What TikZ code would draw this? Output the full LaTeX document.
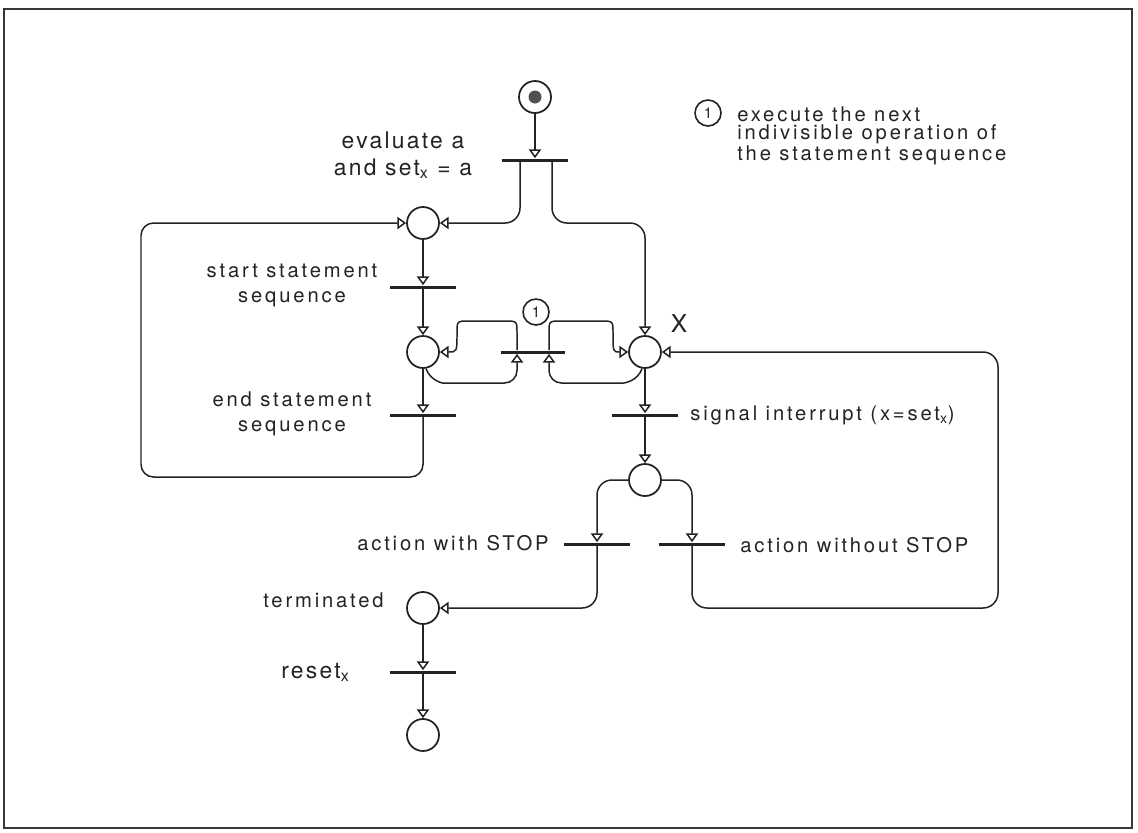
\documentclass[tikz,border=0pt]{standalone}
\usepackage{fontspec}
\setmainfont{TeX Gyre Heros}
\newfontfamily\netfont{TeX Gyre Heros}[LetterSpace=14]
\newfontfamily\netbigfont{TeX Gyre Heros}[LetterSpace=10]
\usetikzlibrary{arrows.meta}
\definecolor{inkdark}{RGB}{35,35,35}
\definecolor{tokengray}{RGB}{80,80,80}
\definecolor{framegray}{RGB}{55,55,55}

\begin{document}
\begin{tikzpicture}[x=0.02cm,y=-0.02cm,
  place/.style={circle,draw=inkdark,line width=1pt,fill=white,minimum size=0.64cm,inner sep=0pt},
  trans/.style={rectangle,fill=inkdark,minimum width=1.32cm,minimum height=0.06cm,inner sep=0pt},
  halftrans/.style={trans,minimum width=0.64cm},
  arc/.style={draw=inkdark,line width=0.85pt,-{Triangle[open,fill=white,length=5pt,width=7pt]}},
  note/.style={font=\netfont\fontsize{11.5}{14.2}\selectfont,text=inkdark,align=center,inner sep=0pt},
  bignote/.style={font=\netbigfont\fontsize{13}{15.3}\selectfont,text=inkdark,align=center,inner sep=0pt},
  numcircle/.style={circle,draw=inkdark,line width=0.9pt,minimum size=0.52cm,inner sep=0pt,
    text=inkdark,font=\netfont\fontsize{8.5}{9}\selectfont}]

  % ── CANVAS AND FRAME ───────────────────────────────────────────────────────
  \useasboundingbox (0,0) rectangle (1138,832);
  \fill[white] (0,0) rectangle (1138,832);
  \draw[framegray,line width=1.2pt] (4,9) rectangle (1132,828);

  % ── PLACES AND TRANSITIONS ─────────────────────────────────────────────────
  \node[place] (pstart) at (535,97) {};
  \fill[tokengray] (pstart) circle[radius=0.13cm];
  \node[trans] (t0) at (535,160) {};

  \node[place] (pready) at (423,223) {};
  \node[trans] (tstart) at (423,287) {};
  \node[place] (pbody) at (423,352) {};
  \node[trans] (tend) at (423,415) {};

  % two halves of the step bar
  \node[halftrans] (tstepl) at (517,352) {};
  \node[halftrans] (tstepr) at (549,352) {};

  \node[place] (px) at (645,352) {};
  \node[trans] (tsig) at (645,415) {};
  \node[place] (pint) at (645,480) {};
  \node[trans] (tstop) at (597,544) {};
  \node[trans] (tnostop) at (692,544) {};

  \node[place] (pterm) at (423,608) {};
  \node[trans] (treset) at (423,672) {};
  \node[place] (pfinal) at (423,735) {};

  % ── ARCS ───────────────────────────────────────────────────────────────────
  \foreach \from/\to in {pstart/t0,pready/tstart,tstart/pbody,pbody/tend,
                         px/tsig,tsig/pint,pterm/treset,treset/pfinal}
    \draw[arc] (\from.south) -- (\to.north);

  % fork below the first transition
  \draw[arc,rounded corners=0.3cm] ([xshift=-0.3cm]t0.south) |- (pready.east);
  \draw[arc,rounded corners=0.3cm] ([xshift=0.34cm]t0.south) |- (645,223) -- (px.north);

  % loop back from end of sequence
  \draw[arc,rounded corners=0.25cm] (tend.south) |- (141,477) |- (pready.west);

  % step loops
  \draw[arc,rounded corners=0.25cm] (pbody.-80) to[out=-70,in=180] (455,383) -| (tstepl.south);
  \draw[arc] (tstepl.north) -- (517,333) .. controls (517,321) .. (505,321) -- (469,321)
    .. controls (457,321) .. (457,333) .. controls (457,352) .. (pbody.east);
  \draw[arc,rounded corners=0.25cm] (px.-100) to[out=-110,in=0] (611,383) -| (tstepr.south);
  \draw[arc] (tstepr.north) -- (549,333) .. controls (549,321) .. (561,321) -- (601,321)
    .. controls (613,321) .. (613,333) .. controls (613,352) .. (px.west);

  % interrupt branches
  \draw[arc,rounded corners=0.3cm] (pint.west) -| (tstop.north);
  \draw[arc,rounded corners=0.3cm] (pint.east) -| (tnostop.north);
  \draw[arc,rounded corners=0.3cm] (tnostop.south) |- (998,608) |- (px.east);
  \draw[arc,rounded corners=0.3cm] (tstop.south) |- (pterm.east);

  % ── LABELS ─────────────────────────────────────────────────────────────────
  \node[bignote] (evallabel) at (403,155) {evaluate a\\and set\textsubscript{x} = a};
  \node[note] (startlabel) at (292,285) {start statement\\sequence};
  \node[note] (endlabel) at (292,414) {end statement\\sequence};
  \node[note,anchor=west] (siglabel) at (690,415) {signal interrupt (x=set\textsubscript{x})};
  \node[note,anchor=east] (stoplabel) at (549,543) {action with STOP};
  \node[note,anchor=west] (nostoplabel) at (740,545) {action without STOP};
  \node[note,anchor=east] (termlabel) at (384,600) {terminated};
  \node[bignote,anchor=east] (resetlabel) at (350,672) {reset\textsubscript{x}};
  \node[text=inkdark,font=\netbigfont\fontsize{14}{14}\selectfont,inner sep=0pt] (xlabel)
    at (679,324) {X};
  \node[numcircle] (stepmark) at (536,312) {1};

  % ── LEGEND ─────────────────────────────────────────────────────────────────
  \node[numcircle] (legendmark) at (708,113) {1};
  \node[note,anchor=north west,align=left,font=\netfont\fontsize{11.5}{10.5}\selectfont]
    (legendtext) at (737,106) {execute the next\\indivisible operation of\\the statement sequence};

\end{tikzpicture}
\end{document}
